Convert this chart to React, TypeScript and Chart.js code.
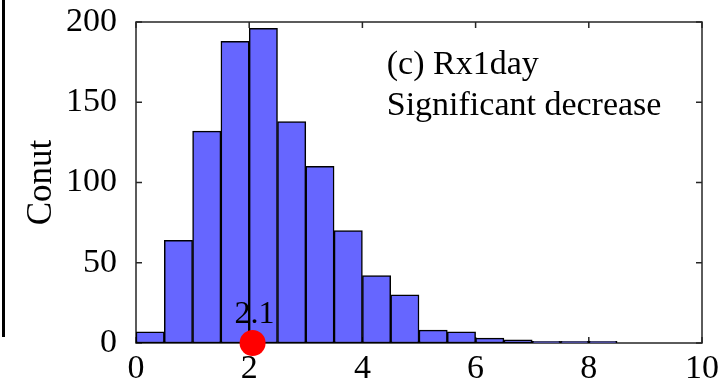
import React, { useEffect, useRef } from 'react';
import { Chart, registerables } from 'chart.js';
Chart.register(...registerables);

const binCenters = [0.25, 0.75, 1.25, 1.75, 2.25, 2.75, 3.25, 3.75, 4.25, 4.75, 5.25, 5.75, 6.25, 6.75, 7.25, 7.75, 8.25, 8.75, 9.25, 9.75];
const counts = [7, 64, 132, 188, 196, 138, 110, 70, 42, 30, 8, 7, 3, 2, 1, 1, 1, 0, 0, 0];
const xTickValues = [0, 2, 4, 6, 8, 10];
const yTickValues = [0, 50, 100, 150, 200];
const markerX = [2.06];
const markerY = [0];
const markerLabel = ['2.1'];
const panelLines = ['(c) Rx1day', 'Significant decrease'];
const yTitle = 'Conut';

const FONT = '"Liberation Serif", "Times New Roman", serif';

const decor = {
  id: 'decor',
  beforeDatasetsDraw(chart: any) {
    const { ctx, chartArea: a, scales } = chart;
    const x = scales.x, y = scales.y;
    ctx.save();
    ctx.strokeStyle = '#262626';
    ctx.lineWidth = 1.5;
    ctx.strokeRect(a.left, a.top, a.right - a.left, a.bottom - a.top);
    const tl = 6;
    ctx.beginPath();
    xTickValues.forEach((v) => {
      const px = x.getPixelForValue(v);
      ctx.moveTo(px, a.bottom); ctx.lineTo(px, a.bottom - tl);
      ctx.moveTo(px, a.top); ctx.lineTo(px, a.top + tl);
    });
    yTickValues.forEach((v) => {
      const py = y.getPixelForValue(v);
      ctx.moveTo(a.left, py); ctx.lineTo(a.left + tl, py);
      ctx.moveTo(a.right, py); ctx.lineTo(a.right - tl, py);
    });
    ctx.stroke();
    ctx.restore();
  },
  afterDatasetsDraw(chart: any) {
    const { ctx, chartArea: a, scales } = chart;
    const x = scales.x, y = scales.y;
    ctx.save();
    ctx.fillStyle = '#000';
    ctx.font = `32px ${FONT}`;
    ctx.textAlign = 'center';
    ctx.textBaseline = 'alphabetic';
    markerX.forEach((v, i) => {
      ctx.fillText(markerLabel[i], x.getPixelForValue(v) + 2, y.getPixelForValue(markerY[i]) - 20);
    });
    ctx.font = `34px ${FONT}`;
    ctx.textAlign = 'left';
    const w = a.right - a.left;
    const tx = a.left + 0.443 * w;
    ctx.fillText(panelLines[0], tx, a.top + 52);
    ctx.fillText(panelLines[1], tx, a.top + 93);
    ctx.restore();
  },
};

export default function App() {
  const ref = useRef<HTMLCanvasElement>(null);
  useEffect(() => {
    document.body.style.margin = '0';
    const chart = new Chart(ref.current as HTMLCanvasElement, {
      type: 'bar',
      data: {
        datasets: [
          {
            type: 'scatter',
            data: markerX.map((v, i) => ({ x: v, y: markerY[i] })),
            backgroundColor: '#ff0000',
            borderColor: '#ff0000',
            pointRadius: 13,
            pointHoverRadius: 13,
            borderWidth: 0,
            clip: false,
            order: 0,
          } as any,
          {
            type: 'bar',
            data: binCenters.map((c, i) => ({ x: c, y: counts[i] })),
            backgroundColor: '#6666ff',
            borderColor: '#000000',
            borderWidth: 1.5,
            borderSkipped: false,
            barPercentage: 1,
            categoryPercentage: 1,
            order: 1,
          } as any,
        ],
      },
      options: {
        animation: false,
        responsive: false,
        maintainAspectRatio: false,
        layout: { padding: { top: 22, right: 22, left: 0, bottom: 0 } },
        plugins: { legend: { display: false }, tooltip: { enabled: false } },
        scales: {
          x: {
            type: 'linear',
            min: 0,
            max: 10,
            offset: false,
            grid: { display: false, drawTicks: false },
            border: { display: false },
            afterBuildTicks: (s: any) => { s.ticks = xTickValues.map((v) => ({ value: v })); },
            afterFit: (s: any) => { s.height = 41; },
            ticks: { color: '#000', font: { family: FONT, size: 34 }, padding: 6, maxRotation: 0 },
          },
          y: {
            type: 'linear',
            min: 0,
            max: 200,
            grid: { display: false, drawTicks: false },
            border: { display: false },
            afterBuildTicks: (s: any) => { s.ticks = yTickValues.map((v) => ({ value: v })); },
            afterFit: (s: any) => { s.width = 136; s.paddingTop = 0; s.paddingBottom = 0; },
            ticks: { color: '#000', font: { family: FONT, size: 34, lineHeight: 0.5 }, padding: 19 },
            title: { display: true, text: yTitle, color: '#000', font: { family: FONT, size: 35 }, padding: { top: 21, bottom: 0 } },
          },
        },
      },
      plugins: [decor],
    } as any);
    return () => chart.destroy();
  }, []);
  return (
    <div style={{ position: 'relative', width: 725, height: 384 }}>
      <div style={{ position: 'absolute', left: 2, top: 0, width: 3, height: 337, background: '#000' }} />
      <canvas ref={ref} width={725} height={384} style={{ display: 'block' }} />
    </div>
  );
}
